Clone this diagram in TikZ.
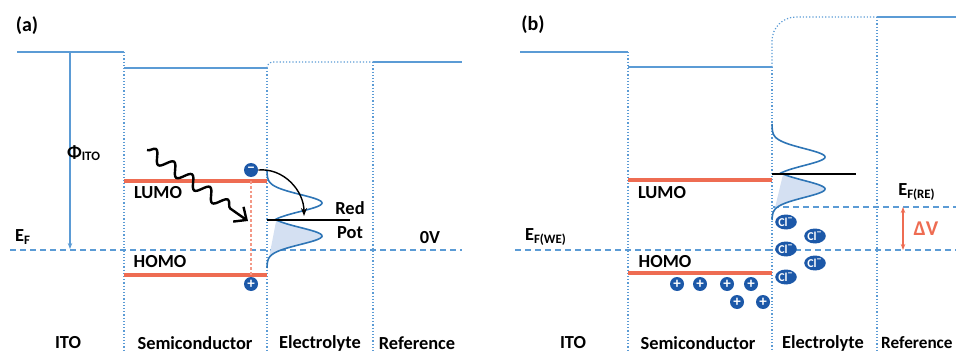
\documentclass[tikz,border=0pt]{standalone}
\usepackage{fontspec}
\setmainfont{Carlito}
\usepackage{tikz}
\usetikzlibrary{arrows.meta, decorations.pathmorphing, shapes.geometric}

\definecolor{lineblue}{RGB}{91,155,213}
\definecolor{levelred}{RGB}{238,108,82}
\definecolor{chargeblue}{RGB}{28,88,168}
\definecolor{dosblue}{RGB}{46,117,182}
\definecolor{dosfill}{RGB}{212,224,242}

\begin{document}
\begin{tikzpicture}[
        x=0.5pt, y=-0.5pt,
        >=Stealth, % Sets arrow style
        vacuum/.style={draw=lineblue, line width=0.7pt},
        divider/.style={draw=lineblue, densely dotted, line width=0.6pt},
        fermi/.style={draw=lineblue, line width=0.9pt, dash pattern=on 3pt off 2pt},
        orbital/.style={draw=levelred, line width=1.6pt},
        tag/.style={font=\fontsize{9.2}{11}\selectfont\bfseries, inner sep=1pt},
        panel/.style={font=\fontsize{10}{12}\selectfont\bfseries, inner sep=1pt},
        hole/.style={circle, fill=chargeblue, minimum size=7pt, inner sep=0pt, text=white, font=\fontsize{7.5}{7.5}\selectfont\bfseries},
        ion/.style={ellipse, fill=chargeblue, minimum width=10pt, minimum height=7.5pt, inner sep=0pt, text=white, font=\fontsize{6}{6}\selectfont\bfseries},
        dos/.style={draw=dosblue, line width=0.8pt}
    ]
    \useasboundingbox (0,0) rectangle (956,352);

    % ===================== (a) =====================
    \node[panel] (pa) at (27,26) {(a)};

    % --- Vacuum levels and interfaces ---
    \draw[vacuum] (17,52) -- (124,52);
    \draw[vacuum] (124,68) -- (267,68);
    \draw[divider, rounded corners=3pt] (267,68) |- (373,62);
    \draw[vacuum] (373,62) -- (462,62);
    \draw[divider] (124,52) -- (124,352);
    \draw[divider] (267,68) -- (267,352);
    \draw[divider] (373,62) -- (373,352);

    % --- Work function ---
    \coordinate (phiTop) at (70,52);
    \coordinate (phiBot) at (70,249);
    \draw[lineblue, line width=0.6pt, -{Stealth[length=3pt]}] (phiTop) -- (phiBot);
    \node[tag] (phi) at (84,153) {Φ\textsubscript{ITO}};

    % --- Fermi level ---
    \draw[fermi] (10,250) -- (462,250);
    \node[tag] (efa) at (23,237) {E\textsubscript{F}};
    \node[tag] (zero) at (430,238) {0V};

    % --- Density of states in electrolyte ---
    \fill[dosfill] plot[domain=220:268, samples=60] ({267+55*exp(-((\x-236)/12)*((\x-236)/12))}, \x) -- cycle;
    \draw[dos] plot[domain=170:220, samples=60] ({267+55*exp(-((\x-203)/12)*((\x-203)/12))}, \x);
    \draw[dos] plot[domain=220:268, samples=60] ({267+55*exp(-((\x-236)/12)*((\x-236)/12))}, \x);
    \draw[black, line width=1pt] (267,220) -- (350,220);
    \node[tag] (red) at (350,208) {Red};
    \node[tag] (pot) at (350,233) {Pot};

    % --- Orbitals ---
    \draw[orbital] (124,181) -- (267,181);
    \draw[orbital] (124,275) -- (267,275);
    \node[tag] (lumoa) at (158,193) {LUMO};
    \node[tag] (homoa) at (160,262) {HOMO};
    \draw[levelred!70, densely dotted, line width=1.4pt] (251,181) -- (251,275);

    % --- Charges ---
    \node[hole] (elec) at (251,170) {−};
    \node[hole] (hol) at (251,284) {+};

    % --- Photon and transfer ---
    \coordinate (photonStart) at (147,150);
    \coordinate (photonEnd) at (248,221);
    \draw[black, line width=1.2pt, -{Straight Barb[length=5pt, width=9pt]},
          decorate, decoration={snake, segment length=11pt, amplitude=3pt, post length=6pt}]
          (photonStart) -- (photonEnd);
    \coordinate (hit) at (304,216);
    \draw[black, line width=0.7pt, -{Stealth[length=4pt]}] (elec.east) to[out=5, in=90] (hit);

    % --- Region labels ---
    \node[tag] (itoa) at (68,343) {ITO};
    \node[tag] (semia) at (195,343) {Semiconductor};
    \node[tag] (elya) at (320,343) {Electrolyte};
    \node[tag] (refa) at (417,343) {Reference};

    % ===================== (b) =====================
    \node[panel] (pb) at (533,25) {(b)};

    % --- Vacuum levels and interfaces ---
    \draw[vacuum] (520,52) -- (628,52);
    \draw[vacuum] (628,67) -- (772,67);
    \draw[divider, rounded corners=12pt] (772,67) |- (877,17);
    \draw[vacuum] (877,17) -- (960,17);
    \draw[divider] (628,52) -- (628,352);
    \draw[divider] (772,67) -- (772,352);
    \draw[divider] (877,17) -- (877,352);

    % --- Fermi levels ---
    \draw[fermi] (515,250) -- (960,250);
    \draw[fermi] (773,207) -- (960,207);
    \node[tag] (efwe) at (546,237) {E\textsubscript{F(WE)}};
    \node[tag] (efre) at (917,192) {E\textsubscript{F(RE)}};
    \coordinate (dvTop) at (903,207);
    \coordinate (dvBot) at (903,250);
    \draw[levelred, line width=0.9pt, {Stealth[length=3pt]}-{Stealth[length=3pt]}] (dvTop) -- (dvBot);
    \node[tag, text=levelred, font=\fontsize{10.5}{12}\selectfont\bfseries] (dv) at (926,229) {ΔV};

    % --- Density of states in electrolyte ---
    \fill[dosfill] plot[domain=174:220, samples=60] ({772+53*exp(-((\x-189)/12)*((\x-189)/12))}, \x) -- cycle;
    \draw[dos] plot[domain=124:174, samples=60] ({772+53*exp(-((\x-157)/12)*((\x-157)/12))}, \x);
    \draw[dos] plot[domain=174:220, samples=60] ({772+53*exp(-((\x-189)/12)*((\x-189)/12))}, \x);
    \draw[black, line width=1pt] (772,174) -- (856,174);

    % --- Orbitals ---
    \draw[orbital] (628,180) -- (772,180);
    \draw[orbital] (628,273) -- (772,273);
    \node[tag] (lumob) at (662,193) {LUMO};
    \node[tag] (homob) at (665,262) {HOMO};

    % --- Holes in semiconductor ---
    \node[hole] (h1) at (677,284) {+};
    \node[hole] (h2) at (700,284) {+};
    \node[hole] (h3) at (727,284) {+};
    \node[hole] (h4) at (751,284) {+};
    \node[hole] (h5) at (737,302) {+};
    \node[hole] (h6) at (763,302) {+};

    % --- Chloride ions in electrolyte ---
    \node[ion] (cl1) at (786,222) {Cl\textsuperscript{−}};
    \node[ion] (cl2) at (815,236) {Cl\textsuperscript{−}};
    \node[ion] (cl3) at (786,249) {Cl\textsuperscript{−}};
    \node[ion] (cl4) at (815,263) {Cl\textsuperscript{−}};
    \node[ion] (cl5) at (786,277) {Cl\textsuperscript{−}};

    % --- Region labels ---
    \node[tag] (itob) at (573,343) {ITO};
    \node[tag] (semib) at (698,343) {Semiconductor};
    \node[tag] (elyb) at (823,343) {Electrolyte};
    \node[tag, anchor=east, font=\fontsize{8.6}{10}\selectfont\bfseries] (refb) at (955,343) {Reference};

\end{tikzpicture}
\end{document}
